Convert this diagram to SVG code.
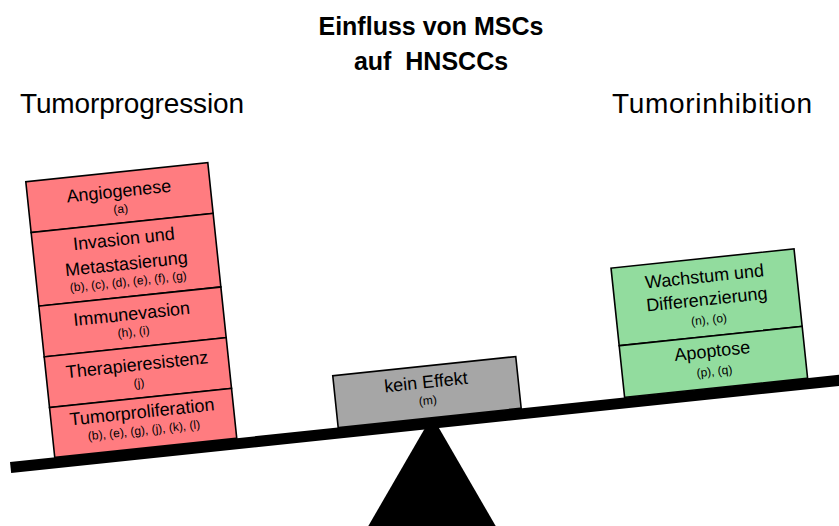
<svg xmlns="http://www.w3.org/2000/svg" width="839" height="526" viewBox="0 0 839 526">
<style>
.t{font-family:"Liberation Sans",Arial,sans-serif;fill:#000;text-anchor:middle}
.title{font-size:25px;font-weight:bold}
.head{font-size:28px}
.lab{font-size:18px}
.sub{font-size:12px}
.red{fill:#FF7C80;stroke:#000;stroke-width:1.6}
.green{fill:#92DC9E;stroke:#000;stroke-width:1.6}
.gray{fill:#A6A6A6;stroke:#000;stroke-width:1.6}
</style>
<rect width="839" height="526" fill="#fff"/>
<g id="title">
<text class="t title" x="431" y="35">Einfluss von MSCs</text>
<text class="t title" x="431" y="70" xml:space="preserve">auf  HNSCCs</text>
</g>
<text class="t head" x="132" y="113" textLength="224">Tumorprogression</text>
<text class="t head" x="712" y="113" textLength="200">Tumorinhibition</text>
<g id="connectors">
<polygon id="fulcrum" points="432,416 366,530 498,530" fill="#000"/>
<g transform="translate(10,462) rotate(-6)">
<rect id="beam" x="0" y="0" width="880" height="11" fill="#000"/>
</g>
</g>
<g transform="translate(10,462) rotate(-6)">
<g id="angiogenese">
<rect class="red" x="45" y="-277" width="183" height="51"/>
<text class="t lab" x="136.5" y="-252">Angiogenese</text>
<text class="t sub" x="136.5" y="-236">(a)</text>
</g>
<g id="invasion">
<rect class="red" x="45" y="-226" width="183" height="74"/>
<text class="t lab" x="136.5" y="-204">Invasion und</text>
<text class="t lab" x="136.5" y="-179">Metastasierung</text>
<text class="t sub" x="136.5" y="-163">(b), (c), (d), (e), (f), (g)</text>
</g>
<g id="immunevasion">
<rect class="red" x="45" y="-152" width="183" height="51"/>
<text class="t lab" x="136.5" y="-128.5">Immunevasion</text>
<text class="t sub" x="136.5" y="-112.5">(h), (i)</text>
</g>
<g id="therapieresistenz">
<rect class="red" x="45" y="-101" width="183" height="51"/>
<text class="t lab" x="136.5" y="-77.5">Therapieresistenz</text>
<text class="t sub" x="136.5" y="-61">(j)</text>
</g>
<g id="tumorproliferation">
<rect class="red" x="45" y="-50" width="183" height="50"/>
<text class="t lab" x="136.5" y="-30">Tumorproliferation</text>
<text class="t sub" x="136.5" y="-13.5">(b), (e), (g), (j), (k), (l)</text>
</g>
<g id="kein-effekt">
<rect class="gray" x="330" y="-52" width="184" height="52"/>
<text class="t lab" x="422" y="-30">kein Effekt</text>
<text class="t sub" x="422" y="-13.5">(m)</text>
</g>
<g id="wachstum">
<rect class="green" x="618" y="-130" width="184" height="78"/>
<text class="t lab" x="710" y="-106">Wachstum und</text>
<text class="t lab" x="710" y="-83">Differenzierung</text>
<text class="t sub" x="710" y="-64.5">(n), (o)</text>
</g>
<g id="apoptose">
<rect class="green" x="618" y="-52" width="184" height="52"/>
<text class="t lab" x="710" y="-31">Apoptose</text>
<text class="t sub" x="710" y="-12.5">(p), (q)</text>
</g>
</g>
</svg>
